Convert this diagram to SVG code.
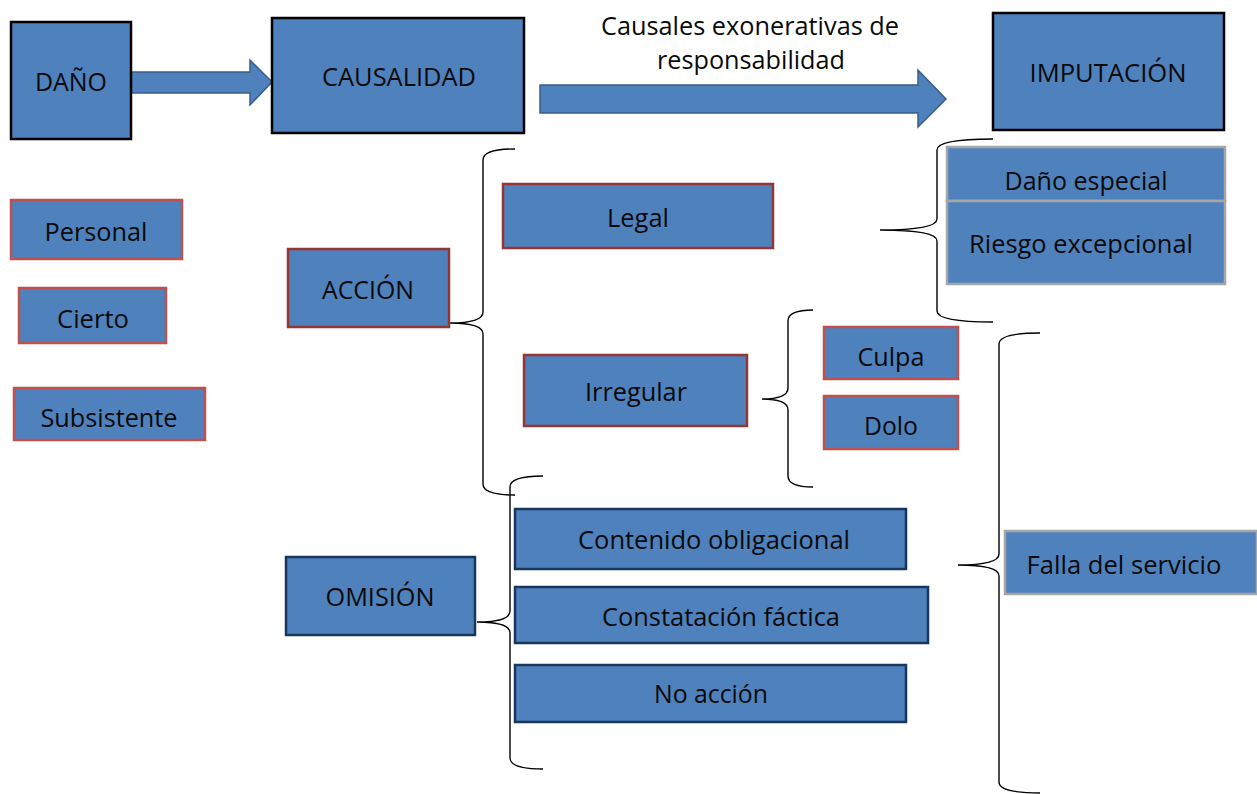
<svg xmlns="http://www.w3.org/2000/svg" width="1257" height="794" viewBox="0 0 1257 794">
<style>
.box{fill:#4F81BD}
.blk{stroke:#000;stroke-width:2.5}
.red{stroke:#C0504D;stroke-width:2.5}
.dred{stroke:#943634;stroke-width:2.5}
.navy{stroke:#17375E;stroke-width:2.5}
.gray{stroke:#A6A6A6;stroke-width:2.5}
.arrow{fill:#4F81BD;stroke:#385D8A;stroke-width:1.5}
.brace{fill:none;stroke:#000;stroke-width:1.4}
text{font-family:"Open Sans","Liberation Sans",sans-serif;font-size:26px;fill:#0a0a0a;text-anchor:middle}
</style>
<rect width="1257" height="794" fill="#fff"/>
<g id="connectors">
<path class="arrow" d="M131 72 L250 72 L250 60 L272 82 L250 105 L250 93 L131 93 Z"/>
<path class="arrow" d="M540 85 L918 85 L918 70 L946 99 L918 127 L918 113 L540 113 Z"/>
<path class="brace" d="M515 149 Q483 149 483 160 L483 312 Q483 323 450 323 Q483 323 483 334 L483 484 Q483 495 515 495"/>
<path class="brace" d="M993 139 Q937 139 937 150 L937 219 Q937 230 880 230 Q937 230 937 241 L937 311 Q937 322 993 322"/>
<path class="brace" d="M813 310 Q788 310 788 321 L788 388 Q788 399 762 399 Q788 399 788 410 L788 476 Q788 487 813 487"/>
<path class="brace" d="M543 476 Q510 476 510 487 L510 611 Q510 622 477 622 Q510 622 510 633 L510 758 Q510 769 543 769"/>
<path class="brace" d="M1040 333 Q999 333 999 344 L999 554 Q999 565 958 565 Q999 565 999 576 L999 782 Q999 793 1040 793"/>
</g>
<g id="dano"><rect class="box blk" x="11" y="22" width="120" height="117"/><text x="71" y="91" textLength="72" lengthAdjust="spacingAndGlyphs">DAÑO</text></g>
<g id="causalidad"><rect class="box blk" x="272" y="18" width="252" height="115"/><text x="399" y="86" textLength="154" lengthAdjust="spacingAndGlyphs">CAUSALIDAD</text></g>
<g id="causales-label"><text x="750" y="35" textLength="298" lengthAdjust="spacingAndGlyphs">Causales exonerativas de</text><text x="751" y="69" textLength="188" lengthAdjust="spacingAndGlyphs">responsabilidad</text></g>
<g id="imputacion"><rect class="box blk" x="993" y="13" width="231" height="117"/><text x="1108" y="82" textLength="157" lengthAdjust="spacingAndGlyphs">IMPUTACIÓN</text></g>
<g id="personal"><rect class="box red" x="11" y="200" width="171" height="59"/><text x="96" y="241" textLength="103" lengthAdjust="spacingAndGlyphs">Personal</text></g>
<g id="cierto"><rect class="box red" x="19" y="288" width="147" height="55"/><text x="93" y="328" textLength="72" lengthAdjust="spacingAndGlyphs">Cierto</text></g>
<g id="subsistente"><rect class="box red" x="14" y="388" width="191" height="52"/><text x="109" y="427" textLength="137" lengthAdjust="spacingAndGlyphs">Subsistente</text></g>
<g id="accion"><rect class="box dred" x="288" y="249" width="161" height="78"/><text x="368" y="299" textLength="92" lengthAdjust="spacingAndGlyphs">ACCIÓN</text></g>
<g id="legal"><rect class="box dred" x="503" y="184" width="270" height="64"/><text x="638" y="227" textLength="62" lengthAdjust="spacingAndGlyphs">Legal</text></g>
<g id="irregular"><rect class="box dred" x="524" y="355" width="223" height="71"/><text x="636" y="401" textLength="102" lengthAdjust="spacingAndGlyphs">Irregular</text></g>
<g id="culpa"><rect class="box red" x="824" y="327" width="134" height="52"/><text x="891" y="366" textLength="67" lengthAdjust="spacingAndGlyphs">Culpa</text></g>
<g id="dolo"><rect class="box red" x="824" y="396" width="134" height="53"/><text x="891" y="435" textLength="54" lengthAdjust="spacingAndGlyphs">Dolo</text></g>
<g id="dano-especial"><rect class="box gray" x="947" y="147" width="278" height="54"/><text x="1086" y="190" textLength="163" lengthAdjust="spacingAndGlyphs">Daño especial</text></g>
<g id="riesgo"><rect class="box gray" x="947" y="201" width="278" height="83"/><text x="1081" y="253" textLength="224" lengthAdjust="spacingAndGlyphs">Riesgo excepcional</text></g>
<g id="omision"><rect class="box navy" x="286" y="557" width="189" height="78"/><text x="380" y="606" textLength="109" lengthAdjust="spacingAndGlyphs">OMISIÓN</text></g>
<g id="contenido"><rect class="box navy" x="515" y="509" width="391" height="60"/><text x="714" y="549" textLength="272" lengthAdjust="spacingAndGlyphs">Contenido obligacional</text></g>
<g id="constatacion"><rect class="box navy" x="515" y="587" width="413" height="56"/><text x="721" y="626" textLength="238" lengthAdjust="spacingAndGlyphs">Constatación fáctica</text></g>
<g id="no-accion"><rect class="box navy" x="515" y="665" width="391" height="57"/><text x="711" y="703" textLength="114" lengthAdjust="spacingAndGlyphs">No acción</text></g>
<g id="falla"><rect class="box gray" x="1005" y="531" width="252" height="63"/><text x="1124" y="574" textLength="195" lengthAdjust="spacingAndGlyphs">Falla del servicio</text></g>
</svg>
